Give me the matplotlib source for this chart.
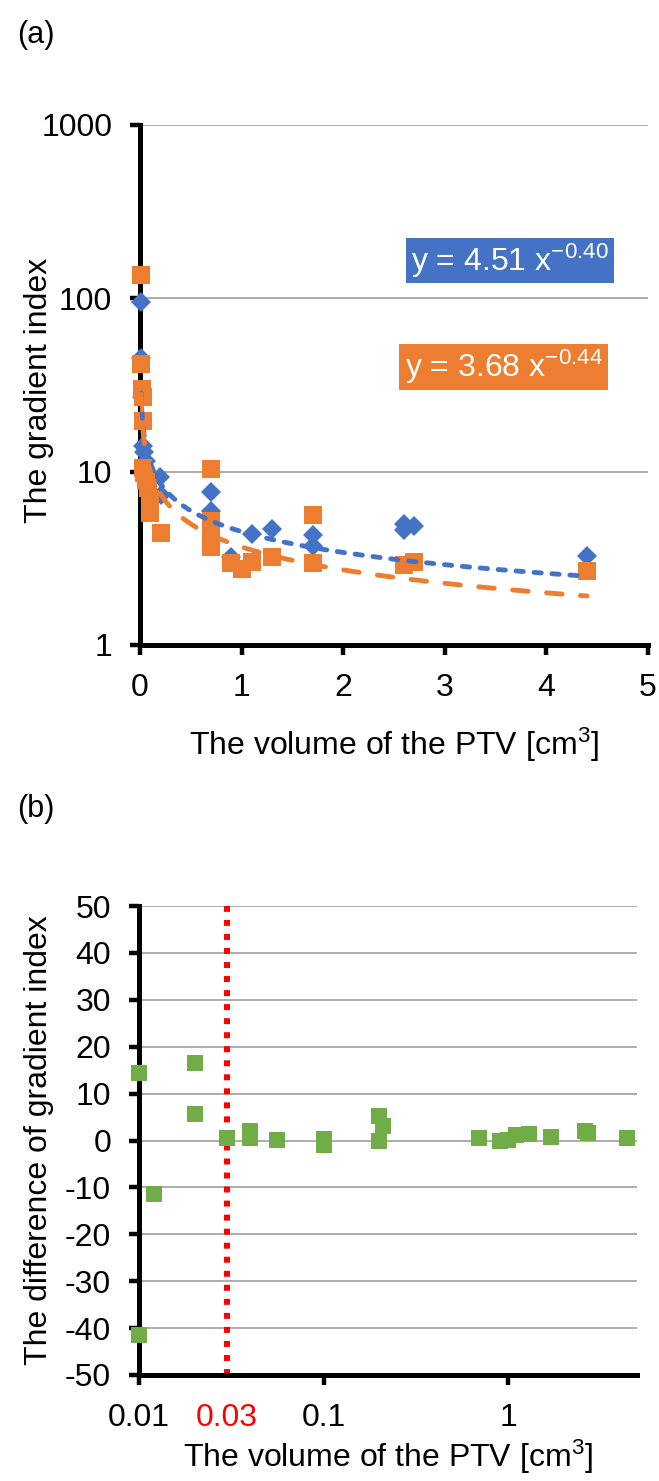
import matplotlib
matplotlib.use('Agg')
import matplotlib.pyplot as plt
from matplotlib.patches import Rectangle
from matplotlib.ticker import NullLocator
import numpy as np

plt.rcParams['font.family'] = ['Liberation Sans', 'DejaVu Sans']
plt.rcParams['mathtext.fontset'] = 'custom'
plt.rcParams['mathtext.rm'] = 'Liberation Sans'
plt.rcParams['mathtext.it'] = 'Liberation Sans:italic'
plt.rcParams['mathtext.bf'] = 'Liberation Sans:bold'
plt.rcParams['axes.unicode_minus'] = False

# ---------------- data: panel (a) ----------------
blue_x = [0.01, 0.012, 0.02, 0.03, 0.04, 0.056, 0.1, 0.2, 0.21, 0.7, 0.7,
          0.9, 1.1, 1.3, 1.7, 1.7, 2.6, 2.6, 2.7, 4.4]
blue_y = [95, 45, 27, 14, 13, 11.5, 9.5, 9.3, 7.3, 7.6, 5.9,
          3.2, 4.35, 4.7, 4.3, 3.75, 5.0, 4.6, 4.85, 3.25]

orange_x = [0.01, 0.012, 0.02, 0.03, 0.026, 0.03, 0.04, 0.056, 0.08, 0.1, 0.1,
            0.1, 0.21, 0.7, 0.7, 0.7, 0.7, 0.9, 1.0, 1.1, 1.3, 1.7, 1.7,
            2.6, 2.7, 4.4]
orange_y = [136, 42, 30, 27, 19.5, 10.5, 9.8, 9.0, 8.0, 7.0, 6.4,
            5.8, 4.4, 10.4, 5.2, 4.4, 3.7, 2.98, 2.75, 3.02, 3.2, 5.6, 2.98,
            2.9, 3.0, 2.66]

# power-law trendlines as printed on the chart
blue_coef, blue_exp = 4.51, -0.40
orange_coef, orange_exp = 3.68, -0.44
trend_range = [0.01, 4.4]
blue_eq = 'y = 4.51 x$^{-0.40}$'
orange_eq = 'y = 3.68 x$^{-0.44}$'

a_xticks = [0, 1, 2, 3, 4, 5]
a_yticks = [1, 10, 100, 1000]
a_ylabels = ['1', '10', '100', '1000']

# ---------------- data: panel (b) ----------------
diff_x = [0.01, 0.01, 0.012, 0.02, 0.02, 0.03, 0.04, 0.04, 0.056, 0.1, 0.1,
          0.2, 0.21, 0.2, 0.7, 0.9, 1.0, 1.1, 1.3, 1.7, 2.6, 2.7, 4.4]
diff_y = [14.3, -41.5, -11.5, 16.5, 5.7, 0.6, 2.0, 0.5, 0.2, 0.4, -0.9,
          5.2, 3.0, -0.1, 0.6, -0.1, 0.1, 1.1, 1.4, 0.7, 2.0, 1.7, 0.6]
threshold = 0.03
b_xticks = [0.01, 0.03, 0.1, 1]
b_xlabels = ['0.01', '0.03', '0.1', '1']
b_yticks = list(range(-50, 51, 10))

BLUE = '#4472C4'
ORANGE = '#ED7D31'
GREEN = '#70AD47'
GRID = '#A6A6A6'

W, H = 659, 1481
fig = plt.figure(figsize=(W / 100, H / 100), dpi=100)


def rect(l, r, t, b):
    return [l / W, 1 - b / H, (r - l) / W, (b - t) / H]


TICK = 23
LAB = 23

# ---------------- panel (a) ----------------
ax1 = fig.add_axes(rect(140, 648, 125, 645))
ax1.set_yscale('log')
ax1.set_xlim(0, 5)
ax1.set_ylim(1, 1000)
ax1.set_xticks(a_xticks)
ax1.set_xticklabels([str(t) for t in a_xticks])
ax1.set_yticks(a_yticks)
ax1.set_yticklabels(a_ylabels)
ax1.yaxis.set_minor_locator(NullLocator())
ax1.grid(axis='y', color=GRID, lw=1.3)
ax1.set_axisbelow(True)
for s in ['top', 'right']:
    ax1.spines[s].set_visible(False)
for s in ['left', 'bottom']:
    ax1.spines[s].set_linewidth(3.6)
ax1.tick_params(direction='out', length=7, width=3.2, labelsize=TICK, pad=13)

ax1.plot(blue_x, blue_y, 'D', color=BLUE, ms=10, mew=0, clip_on=False, zorder=3)
ax1.plot(orange_x, orange_y, 's', color=ORANGE, ms=12.5, mew=0, clip_on=False, zorder=3.5)

tx = np.geomspace(trend_range[0], trend_range[1], 400)
ax1.plot(tx, blue_coef * tx ** blue_exp, color=BLUE, lw=3.5, dashes=(1.5, 2.2),
         dash_capstyle='round', zorder=4)
ax1.plot(tx, orange_coef * tx ** orange_exp, color=ORANGE, lw=3.5, dashes=(3.2, 3.8),
         dash_capstyle='round', zorder=4)


def box(x0, x1, y0, y1, color, text):
    fig.add_artist(Rectangle((x0 / W, 1 - y1 / H), (x1 - x0) / W, (y1 - y0) / H,
                             transform=fig.transFigure, fc=color, ec='none', zorder=5))
    fig.text((x0 + x1) / 2 / W, 1 - (y0 + y1) / 2 / H, text, color='white',
             fontsize=TICK, ha='center', va='center', zorder=6)


box(406, 614, 238, 283, BLUE, blue_eq)
box(399, 608, 344, 390, ORANGE, orange_eq)

fig.text(17 / W, 1 - 35 / H, '(a)', fontsize=22, ha='left', va='center')
fig.text(39 / W, 1 - 390 / H, 'The gradient index', fontsize=LAB, rotation=90,
         ha='center', va='center')
fig.text(394 / W, 1 - 745 / H, 'The volume of the PTV [cm$^{3}$]', fontsize=LAB,
         ha='center', va='center')

# ---------------- panel (b) ----------------
ax2 = fig.add_axes(rect(139, 637, 906, 1375))
ax2.set_xscale('log')
ax2.set_xlim(0.01, 5)
ax2.set_ylim(-50, 50)
ax2.set_yticks(b_yticks)
ax2.set_yticklabels([str(t) for t in b_yticks])
ax2.set_xticks(b_xticks)
ax2.set_xticklabels(b_xlabels)
ax2.xaxis.set_minor_locator(NullLocator())
ax2.grid(axis='y', color=GRID, lw=1.3)
ax2.set_axisbelow(True)
for s in ['top', 'right']:
    ax2.spines[s].set_visible(False)
for s in ['left', 'bottom']:
    ax2.spines[s].set_linewidth(3.6)
ax2.tick_params(direction='out', length=7, width=3.2, labelsize=TICK, pad=13)
ticks = ax2.xaxis.get_major_ticks()
ticks[1].tick1line.set_visible(False)
ticks[1].label1.set_color('red')

ax2.axvline(threshold, color='red', lw=4.3, ls=(0, (1.0, 1.35)), zorder=2)
ax2.plot(diff_x, diff_y, 's', color=GREEN, ms=11.5, mew=0, clip_on=False, zorder=4)

fig.text(17 / W, 1 - 809 / H, '(b)', fontsize=22, ha='left', va='center')
fig.text(39 / W, 1 - 1140 / H, 'The difference of gradient index', fontsize=LAB,
         rotation=90, ha='center', va='center')
fig.text(388 / W, 1 - 1457 / H, 'The volume of the PTV [cm$^{3}$]', fontsize=LAB,
         ha='center', va='center')

fig.savefig('out.png', dpi=100)
